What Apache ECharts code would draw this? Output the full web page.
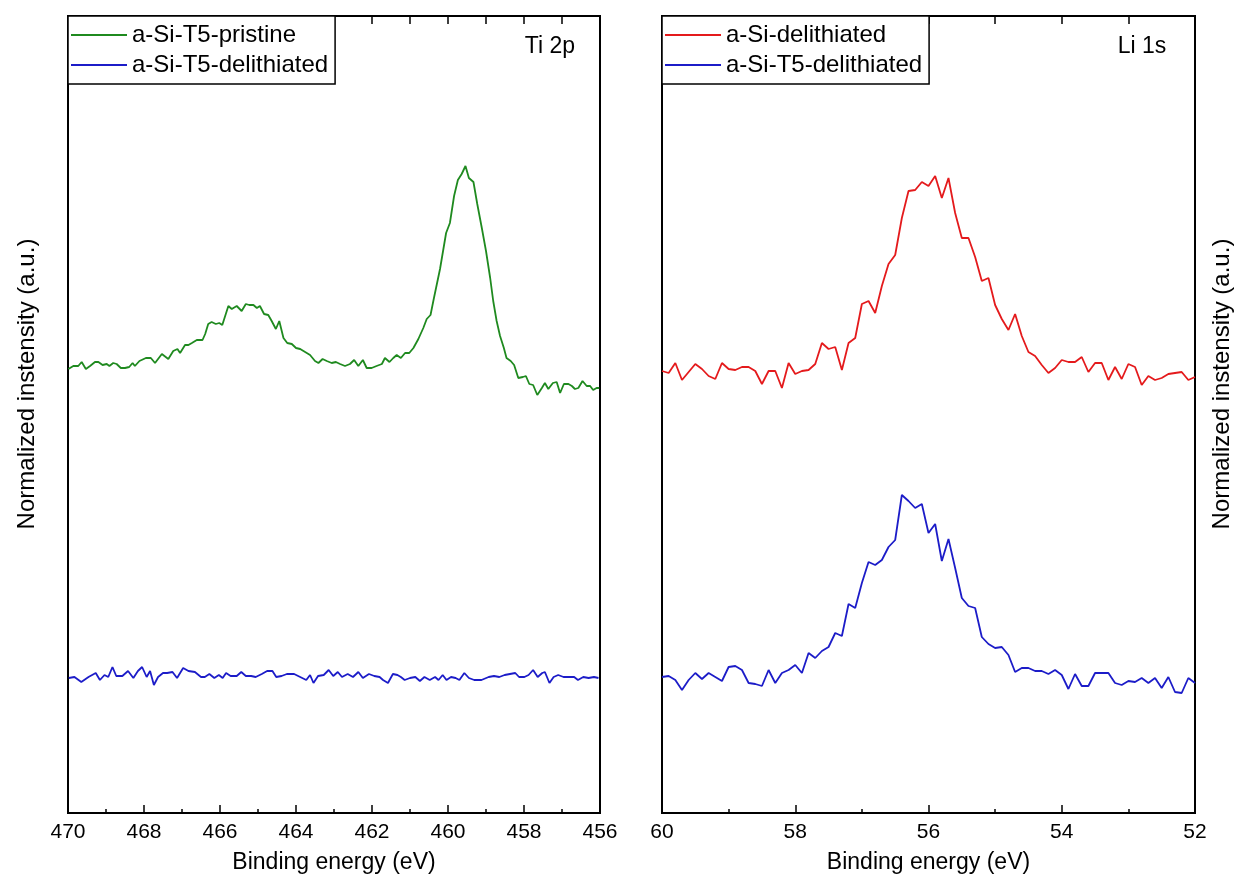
<!DOCTYPE html>
<html>
<head>
<meta charset="utf-8">
<script src="https://cdn.jsdelivr.net/npm/echarts@6/dist/echarts.min.js"></script>
<style>
  html, body { margin: 0; padding: 0; background: #ffffff; }
  #chart { width: 1243px; height: 882px; }
</style>
</head>
<body>
<div id="chart"></div>
<script>
// ---- Ti 2p region: [binding energy (eV), normalized intensity (a.u.)] ----
const tiPristine = [
  [469.99,4.44],[469.86,4.47],[469.73,4.47],[469.64,4.51],[469.53,4.44],[469.42,4.47],[469.29,4.51],[469.20,4.51],
  [469.09,4.48],[468.98,4.49],[468.91,4.47],[468.81,4.50],[468.72,4.49],[468.61,4.45],[468.50,4.45],[468.39,4.46],
  [468.30,4.50],[468.24,4.47],[468.12,4.52],[467.95,4.55],[467.82,4.55],[467.71,4.50],[467.53,4.59],[467.36,4.54],
  [467.23,4.62],[467.12,4.64],[467.05,4.60],[466.92,4.68],[466.83,4.68],[466.74,4.70],[466.61,4.73],[466.46,4.73],
  [466.39,4.79],[466.31,4.89],[466.22,4.91],[466.11,4.89],[466.02,4.90],[465.94,4.88],[465.78,5.07],[465.69,5.04],
  [465.56,5.07],[465.43,5.02],[465.32,5.09],[465.23,5.08],[465.12,5.08],[465.03,5.05],[464.95,5.07],[464.84,4.99],
  [464.73,4.98],[464.64,4.92],[464.53,4.84],[464.44,4.92],[464.33,4.75],[464.23,4.70],[464.11,4.69],[464.00,4.65],
  [463.89,4.64],[463.76,4.61],[463.63,4.58],[463.50,4.52],[463.41,4.50],[463.30,4.54],[463.19,4.52],[463.06,4.50],
  [462.95,4.51],[462.84,4.49],[462.71,4.47],[462.58,4.49],[462.47,4.53],[462.36,4.47],[462.24,4.53],[462.14,4.45],
  [462.01,4.45],[461.88,4.47],[461.74,4.49],[461.66,4.55],[461.54,4.51],[461.44,4.55],[461.35,4.58],[461.24,4.55],
  [461.13,4.60],[461.02,4.60],[460.91,4.65],[460.78,4.74],[460.65,4.85],[460.56,4.94],[460.46,4.98],[460.37,5.15],
  [460.21,5.44],[460.05,5.80],[459.95,5.90],[459.84,6.17],[459.74,6.33],[459.64,6.39],[459.54,6.47],[459.45,6.35],
  [459.33,6.31],[459.23,6.09],[459.11,5.85],[459.00,5.62],[458.89,5.35],[458.81,5.12],[458.72,4.92],[458.63,4.77],
  [458.53,4.65],[458.46,4.55],[458.35,4.52],[458.26,4.48],[458.15,4.35],[458.03,4.36],[457.95,4.37],[457.86,4.29],
  [457.76,4.28],[457.65,4.18],[457.53,4.25],[457.45,4.30],[457.36,4.24],[457.24,4.30],[457.14,4.31],[457.05,4.20],
  [456.95,4.29],[456.83,4.29],[456.74,4.27],[456.66,4.24],[456.57,4.25],[456.46,4.32],[456.35,4.27],[456.26,4.27],
  [456.18,4.23],[456.09,4.25],[456.02,4.25]
];

const tiDelithiated = [
  [469.98,1.35],[469.83,1.36],[469.65,1.31],[469.46,1.36],[469.27,1.40],[469.16,1.33],[469.04,1.38],[468.94,1.36],
  [468.83,1.46],[468.73,1.37],[468.57,1.37],[468.42,1.42],[468.28,1.35],[468.16,1.42],[468.05,1.46],[467.93,1.36],
  [467.84,1.42],[467.74,1.28],[467.63,1.36],[467.50,1.40],[467.39,1.40],[467.25,1.41],[467.13,1.35],[466.97,1.45],
  [466.83,1.42],[466.66,1.41],[466.50,1.36],[466.40,1.36],[466.28,1.39],[466.15,1.35],[466.03,1.38],[465.93,1.35],
  [465.84,1.40],[465.72,1.37],[465.56,1.37],[465.44,1.41],[465.32,1.37],[465.18,1.37],[465.06,1.36],[464.90,1.39],
  [464.76,1.42],[464.62,1.42],[464.52,1.36],[464.38,1.37],[464.24,1.39],[464.05,1.39],[463.89,1.36],[463.73,1.33],
  [463.63,1.38],[463.54,1.30],[463.42,1.37],[463.27,1.38],[463.14,1.43],[463.02,1.37],[462.90,1.41],[462.79,1.36],
  [462.64,1.39],[462.50,1.36],[462.36,1.41],[462.24,1.35],[462.08,1.39],[461.94,1.37],[461.80,1.36],[461.71,1.33],
  [461.58,1.30],[461.45,1.39],[461.33,1.38],[461.24,1.36],[461.14,1.33],[461.00,1.35],[460.86,1.36],[460.74,1.32],
  [460.62,1.36],[460.48,1.33],[460.34,1.36],[460.25,1.33],[460.14,1.38],[460.04,1.33],[459.92,1.36],[459.80,1.35],
  [459.70,1.33],[459.57,1.40],[459.45,1.35],[459.31,1.33],[459.12,1.33],[458.93,1.36],[458.79,1.37],[458.65,1.36],
  [458.51,1.38],[458.37,1.39],[458.23,1.40],[458.13,1.36],[457.99,1.36],[457.88,1.38],[457.76,1.43],[457.64,1.36],
  [457.52,1.40],[457.45,1.41],[457.33,1.30],[457.22,1.36],[457.10,1.38],[456.96,1.36],[456.82,1.36],[456.68,1.36],
  [456.58,1.33],[456.44,1.36],[456.30,1.35],[456.16,1.36],[456.04,1.35]
];

// ---- Li 1s region ----
const liEnergy = [
  60.0,59.9,59.8,59.7,59.6,59.5,59.4,59.3,59.2,59.1,59.0,58.9,58.8,58.7,58.6,58.5,58.4,58.3,58.2,58.1,
  58.0,57.9,57.8,57.7,57.6,57.5,57.4,57.3,57.2,57.1,57.0,56.9,56.8,56.7,56.6,56.5,56.4,56.3,56.2,56.1,
  56.0,55.9,55.8,55.7,55.6,55.5,55.4,55.3,55.2,55.1,55.0,54.9,54.8,54.7,54.6,54.5,54.4,54.3,54.2,54.1,
  54.0,53.9,53.8,53.7,53.6,53.5,53.4,53.3,53.2,53.1,53.0,52.9,52.8,52.7,52.6,52.5,52.4,52.3,52.2,52.1,
  52.0
];
const liSiDelithiated = [
  4.42,4.40,4.50,4.33,4.41,4.49,4.44,4.37,4.34,4.50,4.44,4.43,4.46,4.46,4.42,4.29,4.42,4.42,4.25,4.50,
  4.39,4.42,4.43,4.49,4.70,4.64,4.66,4.43,4.70,4.75,5.09,5.12,5.00,5.27,5.49,5.58,5.95,6.22,6.23,6.31,
  6.27,6.37,6.15,6.35,6.00,5.75,5.75,5.56,5.32,5.35,5.08,4.94,4.83,4.99,4.77,4.61,4.57,4.48,4.40,4.45,
  4.53,4.51,4.51,4.56,4.41,4.50,4.50,4.33,4.46,4.34,4.49,4.46,4.28,4.37,4.33,4.35,4.39,4.40,4.41,4.33,
  4.36
];
const liT5Delithiated = [
  1.36,1.37,1.33,1.23,1.33,1.40,1.34,1.40,1.36,1.32,1.46,1.47,1.43,1.30,1.29,1.27,1.43,1.30,1.40,1.43,
  1.48,1.40,1.60,1.55,1.62,1.66,1.80,1.77,2.09,2.05,2.30,2.51,2.48,2.53,2.66,2.73,3.18,3.12,3.05,3.09,
  2.80,2.89,2.52,2.74,2.45,2.15,2.07,2.05,1.76,1.69,1.65,1.66,1.58,1.41,1.45,1.45,1.42,1.42,1.39,1.43,
  1.38,1.24,1.39,1.27,1.27,1.40,1.40,1.40,1.30,1.28,1.32,1.31,1.35,1.30,1.35,1.25,1.36,1.21,1.20,1.35,
  1.30
];

const FONT = '"Liberation Sans", Arial, Helvetica, sans-serif';
const GREEN = '#1f8a1f';
const RED = '#e41a1c';
const BLUE = '#1c1cc8';

const pair = (xs, ys) => xs.map((x, i) => [x, ys[i]]);

function bottomAxis(gridIndex, min, max) {
  return {
    gridIndex, type: 'value', position: 'bottom', inverse: true,
    min, max, interval: 2,
    axisLine: { show: true, lineStyle: { color: '#000', width: 2 } },
    axisTick: { show: true, inside: true, length: 8, lineStyle: { color: '#000', width: 1.5 } },
    minorTick: { show: true, splitNumber: 2, length: 4, lineStyle: { color: '#000', width: 1.5 } },
    splitLine: { show: false },
    axisLabel: { color: '#000', fontSize: 21, margin: 9, fontFamily: FONT },
    name: 'Binding energy (eV)', nameLocation: 'middle', nameGap: 38,
    nameTextStyle: { color: '#000', fontSize: 23, fontFamily: FONT }
  };
}
function topAxis(gridIndex, min, max) {
  return {
    gridIndex, type: 'value', position: 'top', inverse: true,
    min, max, interval: 1,
    axisLine: { show: true, lineStyle: { color: '#000', width: 2 } },
    axisTick: { show: true, inside: true, length: 8, lineStyle: { color: '#000', width: 1.5 } },
    splitLine: { show: false },
    axisLabel: { show: false }
  };
}
function legendBox(left, names) {
  return {
    data: names, orient: 'vertical', left, top: 16,
    icon: 'rect', itemWidth: 56, itemHeight: 2, itemGap: 6,
    padding: [7, 7, 7, 3],
    backgroundColor: '#fff', borderColor: '#000', borderWidth: 1.5, borderRadius: 0,
    textStyle: { color: '#000', fontSize: 24, fontFamily: FONT },
    selectedMode: false
  };
}
function lineSeries(name, data, color, idx) {
  return {
    name, type: 'line', data, xAxisIndex: idx, yAxisIndex: idx,
    symbol: 'none', showSymbol: false,
    lineStyle: { color, width: 1.8 }, itemStyle: { color },
    animation: false, z: 3
  };
}

const chart = echarts.init(document.getElementById('chart'), null, { renderer: 'canvas' });
chart.setOption({
  backgroundColor: '#ffffff',
  animation: false,
  grid: [
    { left: 68, top: 16, width: 532, height: 797, show: true, borderColor: '#000', borderWidth: 2, backgroundColor: 'transparent' },
    { left: 662, top: 16, width: 533, height: 797, show: true, borderColor: '#000', borderWidth: 2, backgroundColor: 'transparent' }
  ],
  xAxis: [
    bottomAxis(0, 456, 470),
    bottomAxis(1, 52, 60),
    topAxis(0, 456, 470),
    topAxis(1, 52, 60)
  ],
  yAxis: [
    { gridIndex: 0, type: 'value', min: 0, max: 7.97, show: false },
    { gridIndex: 1, type: 'value', min: 0, max: 7.97, show: false }
  ],
  legend: [
    legendBox(68, ['a-Si-T5-pristine', 'a-Si-T5-delithiated']),
    legendBox(662, ['a-Si-delithiated', 'a-Si-T5-delithiated'])
  ],
  series: [
    lineSeries('a-Si-T5-pristine', tiPristine, GREEN, 0),
    lineSeries('a-Si-T5-delithiated', tiDelithiated, BLUE, 0),
    lineSeries('a-Si-delithiated', pair(liEnergy, liSiDelithiated), RED, 1),
    lineSeries('a-Si-T5-delithiated', pair(liEnergy, liT5Delithiated), BLUE, 1)
  ],
  graphic: [
    { type: 'text', x: 550, y: 47, z: 10,
      style: { text: 'Ti 2p', fill: '#000', font: '23px ' + FONT, align: 'center', verticalAlign: 'middle' } },
    { type: 'text', x: 1142, y: 47, z: 10,
      style: { text: 'Li 1s', fill: '#000', font: '23px ' + FONT, align: 'center', verticalAlign: 'middle' } },
    { type: 'text', x: 27, y: 384, rotation: Math.PI / 2, z: 10,
      style: { text: 'Normalized instensity (a.u.)', fill: '#000', font: '24px ' + FONT, align: 'center', verticalAlign: 'middle' } },
    { type: 'text', x: 1222, y: 384, rotation: Math.PI / 2, z: 10,
      style: { text: 'Normalized instensity (a.u.)', fill: '#000', font: '24px ' + FONT, align: 'center', verticalAlign: 'middle' } }
  ]
});
</script>
</body>
</html>
